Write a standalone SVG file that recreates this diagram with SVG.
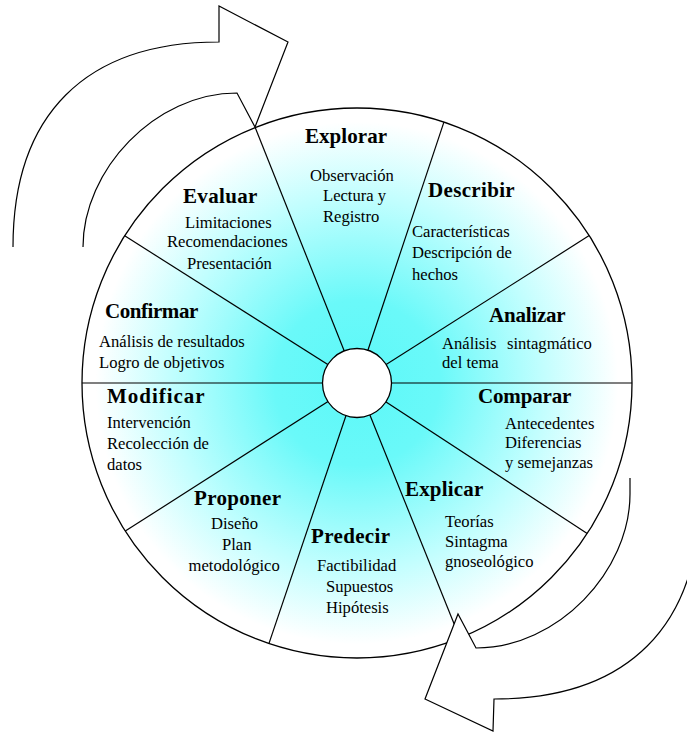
<svg xmlns="http://www.w3.org/2000/svg" width="687" height="733" viewBox="0 0 687 733">
<defs>
<radialGradient id="g" gradientUnits="userSpaceOnUse" cx="357" cy="383" r="275">
<stop offset="0" stop-color="#5CF8F8"/>
<stop offset="0.3" stop-color="#6AF9F9"/>
<stop offset="0.67" stop-color="#C0FEFE"/>
<stop offset="0.95" stop-color="#FFFFFF"/>
</radialGradient>
<style>
.ln{fill:none;stroke:#000;stroke-width:1.2}
.t{font-weight:bold;font-size:21px;fill:#000}
.b{font-size:16.6px;fill:#000}
</style>
</defs>
<rect width="687" height="733" fill="#fff"/>
<g id="arrow-top">
<path d="M13,247 C13,115 85,42 219,42 L219,6 L288,42 L255,127 L237,93 C155,93 83,170 83,247 Z" fill="#fff"/>
<path class="ln" d="M13,247 C13,115 85,42 219,42 L219,6 L288,42 L255,127 L237,93 C155,93 83,170 83,247"/>
</g>
<g id="wheel">
<circle cx="357" cy="383" r="275" fill="url(#g)" stroke="#000" stroke-width="1.3"/>
</g>
<g id="connectors">
<line class="ln" x1="357" y1="383" x2="255" y2="127"/>
<line class="ln" x1="357" y1="383" x2="443.9" y2="122.1"/>
<line class="ln" x1="357" y1="383" x2="589.2" y2="235.6"/>
<line class="ln" x1="357" y1="383" x2="632" y2="383"/>
<line class="ln" x1="357" y1="383" x2="587.2" y2="533.5"/>
<line class="ln" x1="357" y1="383" x2="459.8" y2="638"/>
<line class="ln" x1="357" y1="383" x2="269" y2="643.4"/>
<line class="ln" x1="357" y1="383" x2="125.3" y2="531.1"/>
<line class="ln" x1="357" y1="383" x2="82" y2="383"/>
<line class="ln" x1="357" y1="383" x2="124.7" y2="235.8"/>
</g>
<g id="hub">
<circle cx="357" cy="383" r="34.5" fill="#fff" stroke="#000" stroke-width="1.3"/>
</g>
<g id="arrow-bottom">
<path d="M700,470 L700,494 C700,626 628,699 494,699 L493,731 L425,699 L458,614 L476,648 C558,648 630,571 630,494 L630,478 Z" fill="#fff"/>
<path class="ln" d="M700,470 L700,494 C700,626 628,699 494,699 L493,731 L425,699 L458,614 L476,648 C558,648 630,571 630,494 L630,478"/>
</g>
<g id="labels" font-family="Liberation Serif, Times New Roman, Times, serif">
<g id="explorar">
<text class="t" x="305" y="143" textLength="82" lengthAdjust="spacing">Explorar</text>
<text class="b" x="310" y="181">Observación</text>
<text class="b" x="323" y="201">Lectura y</text>
<text class="b" x="323" y="222">Registro</text>
</g>
<g id="describir">
<text class="t" x="428" y="197" textLength="86.7" lengthAdjust="spacing">Describir</text>
<text class="b" x="412" y="237">Características</text>
<text class="b" x="412" y="258">Descripción de</text>
<text class="b" x="412" y="280">hechos</text>
</g>
<g id="analizar">
<text class="t" x="489" y="322" textLength="76.7" lengthAdjust="spacing">Analizar</text>
<text class="b" x="442" y="349">Análisis</text>
<text class="b" x="507" y="349">sintagmático</text>
<text class="b" x="442" y="368">del tema</text>
</g>
<g id="comparar">
<text class="t" x="478" y="403" textLength="93.4" lengthAdjust="spacing">Comparar</text>
<text class="b" x="505" y="429">Antecedentes</text>
<text class="b" x="505" y="448">Diferencias</text>
<text class="b" x="505" y="468">y semejanzas</text>
</g>
<g id="explicar">
<text class="t" x="405" y="496" textLength="78.3" lengthAdjust="spacing">Explicar</text>
<text class="b" x="445" y="527">Teorías</text>
<text class="b" x="445" y="547">Sintagma</text>
<text class="b" x="445" y="567">gnoseológico</text>
</g>
<g id="predecir">
<text class="t" x="311" y="543" textLength="79" lengthAdjust="spacing">Predecir</text>
<text class="b" x="317" y="571">Factibilidad</text>
<text class="b" x="326" y="592">Supuestos</text>
<text class="b" x="326" y="613">Hipótesis</text>
</g>
<g id="proponer">
<text class="t" x="194" y="505" textLength="87" lengthAdjust="spacing">Proponer</text>
<text class="b" x="211" y="529">Diseño</text>
<text class="b" x="222" y="550">Plan</text>
<text class="b" x="188.5" y="571">metodológico</text>
</g>
<g id="modificar">
<text class="t" x="107" y="403" textLength="97.6" lengthAdjust="spacing">Modificar</text>
<text class="b" x="107" y="428">Intervención</text>
<text class="b" x="107" y="449">Recolección de</text>
<text class="b" x="107" y="470">datos</text>
</g>
<g id="confirmar">
<text class="t" x="105" y="318" textLength="93.3" lengthAdjust="spacing">Confirmar</text>
<text class="b" x="99" y="347">Análisis de resultados</text>
<text class="b" x="99" y="368">Logro de objetivos</text>
</g>
<g id="evaluar">
<text class="t" x="183" y="203" textLength="74.4" lengthAdjust="spacing">Evaluar</text>
<text class="b" x="185" y="228">Limitaciones</text>
<text class="b" x="167" y="247">Recomendaciones</text>
<text class="b" x="187" y="269">Presentación</text>
</g>
</g>
</svg>
